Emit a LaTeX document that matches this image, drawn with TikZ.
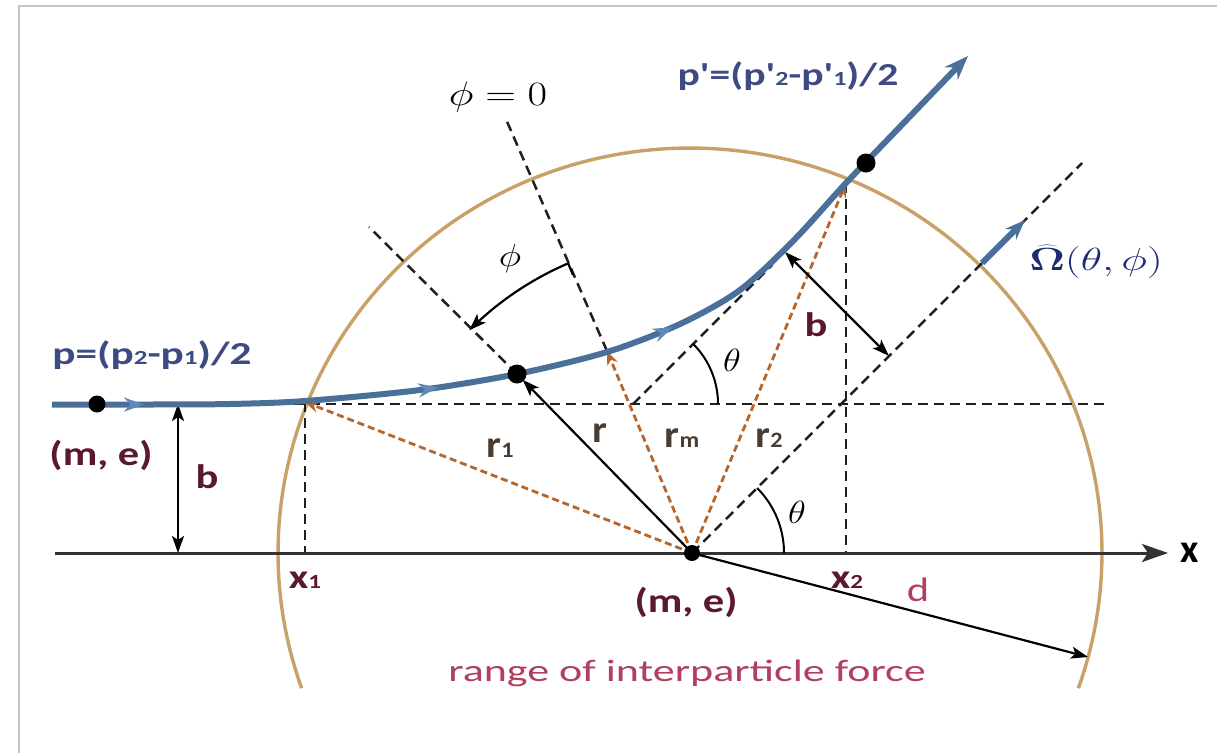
\RequirePackage{fix-cm}
\documentclass[tikz,border=0pt]{standalone}
\usepackage[no-math]{fontspec}
\setmainfont{Carlito}
\usepackage{graphicx}
\usetikzlibrary{arrows.meta,decorations.markings}
\definecolor{trajc}{HTML}{4A6F98}
\definecolor{trajl}{HTML}{5E8AB8}
\definecolor{brn}{HTML}{B8652A}
\definecolor{ctan}{HTML}{C9A067}
\definecolor{slate}{HTML}{3E4A82}
\definecolor{navyc}{HTML}{1F2A72}
\definecolor{maroonc}{HTML}{5A1832}
\definecolor{rosec}{HTML}{B0405E}
\definecolor{rlab}{HTML}{4A3C30}
\newcommand{\sx}[1]{\scalebox{1.25}[1]{#1}}
\newcommand{\smd}[1]{{\fontsize{20}{20}\selectfont #1}}
\begin{document}
\begin{tikzpicture}[x=1pt,y=-1pt,
  dsh/.style={draw=black!88, line width=2.5pt, dash pattern=on 10pt off 6pt},
  odsh/.style={draw=brn, line width=2.8pt, dash pattern=on 7pt off 4pt, -{Stealth[length=14pt,width=11pt]}},
  blk/.style={draw=black, line width=2.2pt, -{Stealth[length=17pt,width=12pt,inset=4pt]}},
  dblk/.style={draw=black, line width=2.2pt, {Stealth[length=17pt,width=12pt,inset=4pt]}-{Stealth[length=17pt,width=12pt,inset=4pt]}},
  trajst/.style={draw=trajc, line width=6pt, -{Stealth[length=24pt,width=18pt]}},
  circ/.style={draw=ctan, line width=3.4pt},
  dot/.style={fill=black},
  lab/.style={inner sep=0pt, font=\fontsize{34}{38}\selectfont\bfseries},
  mlab/.style={inner sep=0pt, font=\fontsize{32}{36}\selectfont},
]
\useasboundingbox (0,0) rectangle (1217,753);
\fill[white] (0,0) rectangle (1217,753);
\draw[gray!45, line width=1.8pt] (19,753) -- (19,6) -- (1217,6);

% coordinates
\coordinate (O) at (692,553);
\coordinate (X1) at (305,402);
\coordinate (X1b) at (305,553);
\coordinate (X2) at (846,183);
\coordinate (X2b) at (846,553);
\coordinate (M) at (517,374);
\coordinate (Rm) at (607,351);
\coordinate (PhiTop) at (505,117);
\coordinate (RextTop) at (369,227);
\coordinate (A0) at (633,404);
\coordinate (A1) at (772,265);
\coordinate (HL) at (230,404);
\coordinate (HR) at (1104,404);
\coordinate (OmEnd) at (1082,163);
\coordinate (OmA) at (982,263);
\coordinate (OmB) at (1025,220);
\coordinate (Bu) at (785,252);
\coordinate (Bd) at (889,356);
\coordinate (Bl1) at (178,404);
\coordinate (Bl2) at (178,553);
\coordinate (Dt) at (1088,657);
\coordinate (Xs) at (55,553);
\coordinate (Xe) at (1168,553);
\coordinate (L) at (97,404);
\coordinate (R) at (866,163);
\coordinate (PhiS) at (568,263);
\coordinate (PhiT) at (573,275);

% range circle
\draw[circ] plot[domain=-19.5:199.5, samples=150] ({690+412*cos(\x)},{553-405*sin(\x)});

% dashed helper lines
\draw[dsh] (HL) -- (HR);
\draw[dsh] (X1) -- (X1b);
\draw[dsh] (X2) -- (X2b);
\draw[dsh] (Rm) -- (PhiTop);
\draw[dsh] (M) -- (RextTop);
\draw[dsh] (A0) -- (A1);
\draw[dsh] (O) -- (OmEnd);

% x axis
\draw[draw=black!80, line width=3pt, -{Stealth[length=26pt,width=18pt,inset=6pt]}] (Xs) -- (Xe);
\node[inner sep=0pt, font=\fontsize{40}{44}\selectfont\bfseries] (xl) at (1190,553) {x};

% angle arcs
\draw[black, line width=2pt] plot[domain=0:45, samples=30] ({633+85*cos(\x)},{404-85*sin(\x)});
\draw[black, line width=2pt] plot[domain=0:45, samples=30] ({692+92*cos(\x)},{553-92*sin(\x)});
\draw[blk] plot[domain=113.2:135, samples=30] ({692+315*cos(\x)},{553-315*sin(\x)});
\draw[black, line width=2.2pt] (PhiS) -- (PhiT);

% radius vectors
\draw[odsh] (O) -- (X1);
\draw[odsh] (O) -- (Rm);
\draw[odsh] (O) -- (X2);
\draw[blk, shorten >=8pt] (O) -- (M);
\draw[blk] (O) -- (Dt);
\draw[dblk] (Bl1) -- (Bl2);
\draw[dblk] (Bu) -- (Bd);

% trajectory
\draw[trajst, postaction={decorate}, decoration={markings,
   mark=at position 92pt with {\arrow{Stealth[length=20pt,width=14pt,color=trajl]}},
   mark=at position 387pt with {\arrow{Stealth[length=20pt,width=14pt,color=trajl]}},
   mark=at position 630pt with {\arrow{Stealth[length=20pt,width=14pt,color=trajl]}}}]
  plot[smooth, tension=0.5] coordinates {(52,404.5) (150,404.5) (230,404) (305,401) (420,390) (517,374) (607,352) (680,324) (740,290) (795,239) (846,183) (907,119.5) (968,56)};
\draw[draw=trajc, line width=6pt, -{Stealth[length=20pt,width=15pt]}] (OmA) -- (OmB);

% particles
\fill[dot] (L) circle[radius=8.5pt];
\fill[dot] (M) circle[radius=9.5pt];
\fill[dot] (R) circle[radius=9.5pt];
\fill[dot] (O) circle[radius=8pt];

% labels
\node[lab, text=slate, font=\fontsize{32}{36}\selectfont\bfseries] (plab) at (152,355) {\scalebox{1.35}[1]{p=(p\smd{2}-p\smd{1})/2}};
\node[lab, text=slate, font=\fontsize{32}{36}\selectfont\bfseries] (pplab) at (788,76) {\scalebox{1.3}[1]{p\textquotesingle=(p\textquotesingle\smd{2}-p\textquotesingle\smd{1})/2}};
\node[lab, text=maroonc] (me1) at (101,455) {\sx{(m, e)}};
\node[lab, text=maroonc] (b1) at (207,477) {\sx{b}};
\node[lab, text=maroonc] (x1l) at (305,580) {\sx{x\smd{1}}};
\node[lab, text=maroonc] (x2l) at (847,580) {\sx{x\smd{2}}};
\node[lab, text=maroonc] (me2) at (686,602) {\sx{(m, e)}};
\node[lab, text=maroonc] (b2) at (816,325) {\sx{b}};
\node[lab, text=rosec, font=\fontsize{34}{38}\selectfont] (dl) at (918,590) {\sx{d}};
\node[lab, text=rosec, font=\fontsize{31}{36}\selectfont] (rng) at (687,673) {\scalebox{1.42}[1]{range of interparticle force}};
\node[lab, text=rlab, font=\fontsize{38}{40}\selectfont\bfseries] (r1l) at (500,448) {\scalebox{1.1}[1]{r{\fontsize{22}{22}\selectfont 1}}};
\node[lab, text=rlab, font=\fontsize{38}{40}\selectfont\bfseries] (rl) at (600,433) {\scalebox{1.1}[1]{r}};
\node[lab, text=rlab, font=\fontsize{38}{40}\selectfont\bfseries] (rml) at (682,438) {\scalebox{1.1}[1]{r{\fontsize{22}{22}\selectfont m}}};
\node[lab, text=rlab, font=\fontsize{38}{40}\selectfont\bfseries] (r2l) at (769,438) {\scalebox{1.1}[1]{r{\fontsize{22}{22}\selectfont 2}}};
\node[mlab, font=\fontsize{34}{38}\selectfont] (phi0) at (498,97) {\scalebox{1.25}[1]{$\phi = 0$}};
\node[mlab] (phil) at (510,258) {\scalebox{1.2}[1]{$\phi$}};
\node[mlab] (th1) at (732,360) {\scalebox{1.15}[1]{$\theta$}};
\node[mlab] (th2) at (797,512) {\scalebox{1.15}[1]{$\theta$}};
\node[mlab, text=navyc] (oml) at (1096,262) {\scalebox{1.38}[1]{$\widehat{\mathbf{\Omega}}(\theta,\phi)$}};
\end{tikzpicture}
\end{document}
